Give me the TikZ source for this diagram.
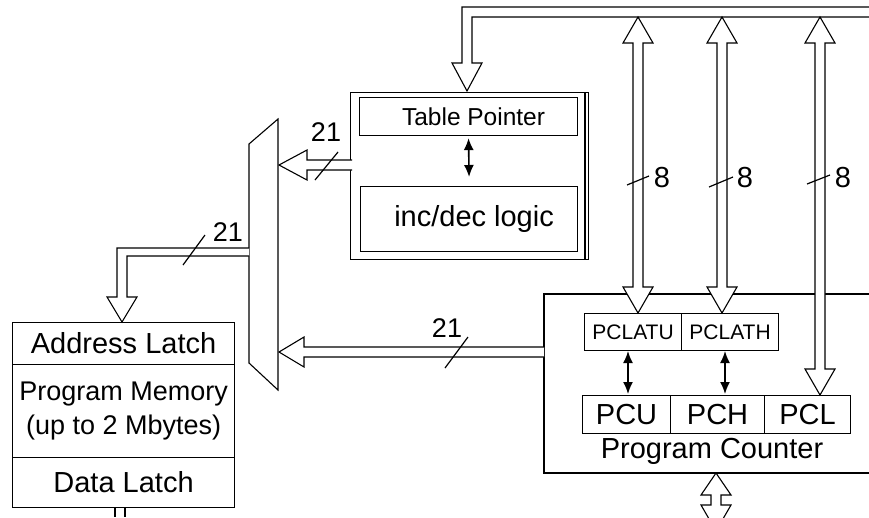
\documentclass[tikz,border=0pt]{standalone}
\usepackage{fontspec}
\setmainfont{Liberation Sans}
\usetikzlibrary{arrows.meta}
\begin{document}
\begin{tikzpicture}[x=1pt,y=-1pt, line width=1.1pt,
  box/.style={draw, rectangle, inner sep=0pt, anchor=north west},
  bus/.style={draw, fill=white, line width=1.1pt, line join=miter},
  sig/.style={{Latex[length=12pt,width=10pt]}-{Latex[length=12pt,width=10pt]}, line width=1.6pt},
  lbl/.style={font=\fontsize{27}{29}\selectfont, inner sep=0pt},
  big/.style={font=\fontsize{29}{31}\selectfont},
  tick/.style={line width=1.2pt}]
\useasboundingbox (0,0) rectangle (869,517);
\clip (0,0) rectangle (869,517);

% ---------------- Table pointer block ----------------
\node[box, minimum width=238pt, minimum height=167pt] (tpblk) at (350,92) {};
\draw (585,92) -- (585,259);
\node[box, minimum width=218pt, minimum height=38pt, font=\fontsize{24.5}{26}\selectfont] (tp) at (359,97) {\hspace*{10pt}Table Pointer};
\node[box, minimum width=217pt, minimum height=65pt, big] (incdec) at (360,186) {\hspace*{10pt}inc/dec logic};
\draw[sig] ([yshift=-2pt]tp.south) -- ([yshift=9pt]incdec.north);

% ---------------- MUX ----------------
\coordinate (m1) at (249,144);
\coordinate (m2) at (278,119);
\coordinate (m3) at (278,390);
\coordinate (m4) at (249,363);
\draw (m1) -- (m2) -- (m3) -- (m4) -- cycle;

% ---------------- Program memory ----------------
\node[box, minimum width=222pt, minimum height=42pt, big] (addr) at (12,322) {Address Latch};
\node[box, minimum width=222pt, minimum height=93pt, align=center, font=\fontsize{27}{34}\selectfont] (pmem) at (12,364) {Program Memory\\(up to 2 Mbytes)};
\node[box, minimum width=222pt, minimum height=50pt, big] (dlatch) at (12,457) {Data Latch};
\draw (115,507) -- (115,517);
\draw (125,507) -- (125,517);

% ---------------- Program counter block ----------------
\draw (869,294) -- (544,294) -- (544,473) -- (869,473);
\node[box, minimum width=97pt, minimum height=37pt, font=\fontsize{21}{23}\selectfont] (pclatu) at (584,313) {PCLATU};
\node[box, minimum width=97pt, minimum height=37pt, font=\fontsize{21}{23}\selectfont] (pclath) at (681,313) {PCLATH};
\node[box, minimum width=88pt, minimum height=38pt, big] (pcu) at (582,395) {PCU};
\node[box, minimum width=94pt, minimum height=38pt, big] (pch) at (670,395) {PCH};
\node[box, minimum width=86pt, minimum height=38pt, big] (pcl) at (764,395) {PCL};
\node[big, inner sep=0pt] (pctxt) at (712,451) {Program Counter};
\draw[sig] (628,351) -- (628,394);
\draw[sig] (725,351) -- (725,394);

% ---------------- Buses ----------------
% top bus into table pointer
\draw[bus] (869,7) -- (462,7) -- (462,63) -- (452,63) -- (467,91) -- (482,63) -- (472,63) -- (472,17) -- (869,17);
% vertical double-headed buses
\foreach \c/\b in {638/313, 722/313, 820/395} {
  \draw[bus] (\c,17) -- (\c+15,43) -- (\c+5,43) -- (\c+5,\b-26) -- (\c+15,\b-26) -- (\c,\b)
     -- (\c-15,\b-26) -- (\c-5,\b-26) -- (\c-5,43) -- (\c-15,43) -- cycle;
}
% table pointer -> mux
\draw[bus] (352,160) -- (307,160) -- (307,150) -- (279,165) -- (307,180) -- (307,170) -- (352,170);
% mux -> address latch
\draw[bus] (249,248) -- (117,248) -- (117,297) -- (107,297) -- (122,322) -- (137,297) -- (127,297) -- (127,256) -- (249,256);
% program counter -> mux
\draw[bus] (544,347) -- (304,347) -- (304,337) -- (279,352) -- (304,367) -- (304,357) -- (544,357);
% bottom bus of program counter
\draw[bus] (716,473) -- (731,495) -- (721,495) -- (721,505) -- (731,505) -- (716,531) -- (701,505)
   -- (711,505) -- (711,495) -- (701,495) -- cycle;

% ---------------- bus width ticks and labels ----------------
\draw[tick] (315,180) -- (338,152);
\node[lbl] (l21a) at (326,132) {21};
\draw[tick] (183,265) -- (205,235);
\node[lbl] (l21b) at (228,232) {21};
\draw[tick] (445,368) -- (468,337);
\node[lbl] (l21c) at (447,328) {21};
\draw[tick] (627,185) -- (649,176);
\node[lbl, font=\fontsize{29}{31}\selectfont] (l8a) at (662,178) {8};
\draw[tick] (709,187) -- (733,177);
\node[lbl, font=\fontsize{29}{31}\selectfont] (l8b) at (745,178) {8};
\draw[tick] (807,184) -- (830,175);
\node[lbl, font=\fontsize{29}{31}\selectfont] (l8c) at (843,178) {8};
\end{tikzpicture}
\end{document}
